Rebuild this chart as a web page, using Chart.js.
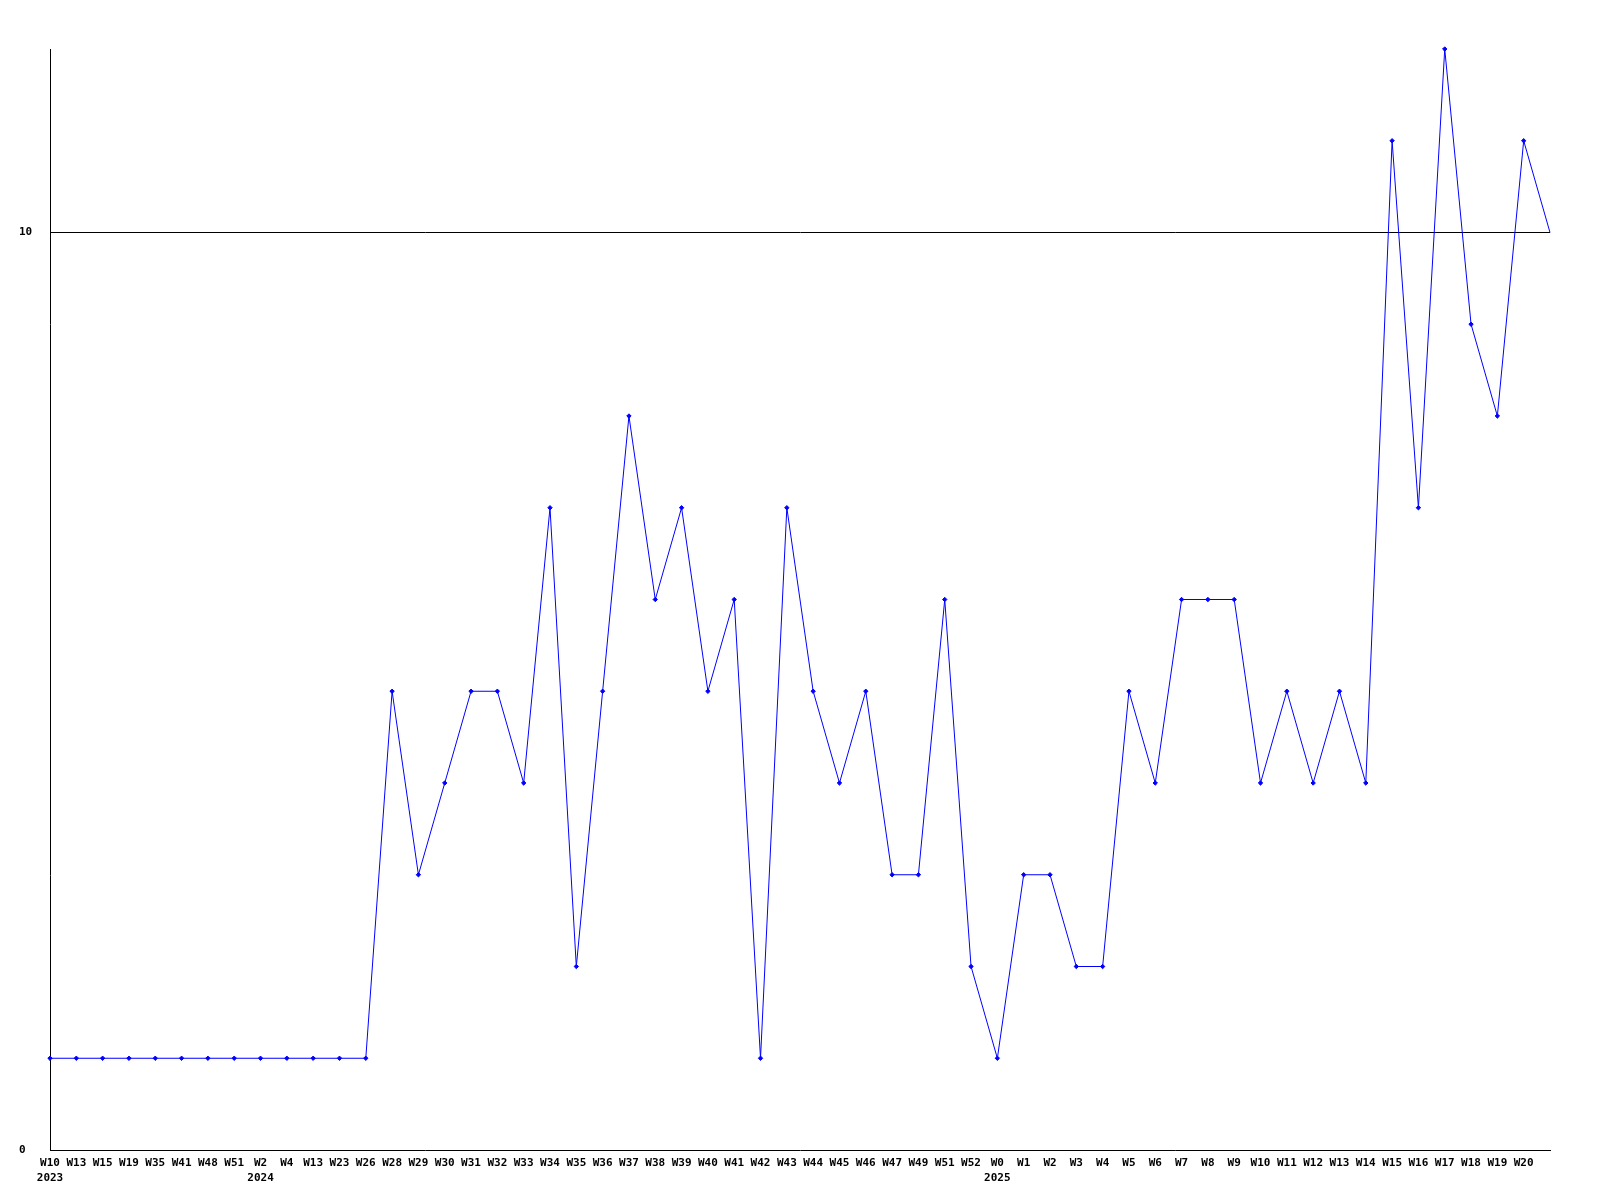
<!DOCTYPE html>
<html>
<head>
<meta charset="utf-8">
<script src="https://cdn.jsdelivr.net/npm/chart.js@4/dist/chart.umd.min.js"></script>
<style>
html,body{margin:0;padding:0;background:#fff;}
#wrap{width:1600px;height:1200px;}
</style>
</head>
<body>
<div id="wrap"><canvas id="c" width="1600" height="1200"></canvas></div>
<script>
const weekLabels = ['W10','W13','W15','W19','W35','W41','W48','W51','W2','W4','W13','W23','W26','W28','W29','W30','W31','W32','W33','W34','W35','W36','W37','W38','W39','W40','W41','W42','W43','W44','W45','W46','W47','W49','W51','W52','W0','W1','W2','W3','W4','W5','W6','W7','W8','W9','W10','W11','W12','W13','W14','W15','W16','W17','W18','W19','W20',''];
const yearLabels = ['2023','','','','','','','','2024','','','','','','','','','','','','','','','','','','','','','','','','','','','','2025','','','','','','','','','','','','','','','','','','','','',''];
const counts = [1,1,1,1,1,1,1,1,1,1,1,1,1,5,3,4,5,5,4,7,2,5,8,6,7,5,6,1,7,5,4,5,3,3,6,2,1,3,3,2,2,5,4,6,6,6,4,5,4,5,4,11,7,12,9,8,11,10];
const yTicks = [0, 10];
const yMax = 12;

const labels = weekLabels.map((w, i) => yearLabels[i] ? [w, yearLabels[i]] : w);
const font = { family: '"DejaVu Sans Mono", monospace', size: 11, weight: 'bold', lineHeight: 1.36 };

new Chart(document.getElementById('c'), {
  type: 'line',
  data: {
    labels: labels,
    datasets: [{
      data: counts,
      borderColor: '#0000ff',
      backgroundColor: '#0000ff',
      borderWidth: 1,
      tension: 0,
      clip: false,
      pointStyle: 'rectRot',
      pointRadius: ctx => ctx.dataIndex === counts.length - 1 ? 0 : 2.2,
      pointBorderWidth: 1,
      pointBorderColor: '#0000ff',
      pointBackgroundColor: '#0000ff'
    }]
  },
  options: {
    responsive: false,
    animation: false,
    devicePixelRatio: 1,
    layout: { padding: { left: 19, top: 49, right: 50, bottom: 0 } },
    plugins: { legend: { display: false }, tooltip: { enabled: false } },
    scales: {
      x: {
        type: 'category',
        offset: false,
        grid: { display: false, drawTicks: false },
        border: { display: true, color: '#000', width: 1 },
        ticks: { color: '#000', font: font, padding: 6, maxRotation: 0, autoSkip: false },
        afterFit: s => { s.height = 50; }
      },
      y: {
        min: 0,
        max: yMax,
        afterBuildTicks: s => { s.ticks = yTicks.map(v => ({ value: v })); },
        grid: {
          drawTicks: false,
          color: ctx => (ctx.tick && ctx.tick.value === 10) ? '#000' : 'rgba(0,0,0,0)',
          lineWidth: 1
        },
        border: { display: true, color: '#000', width: 1 },
        ticks: { color: '#000', font: font, padding: 0, crossAlign: 'far' },
        afterFit: s => { s.width = 31; }
      }
    }
  }
});
</script>
</body>
</html>
